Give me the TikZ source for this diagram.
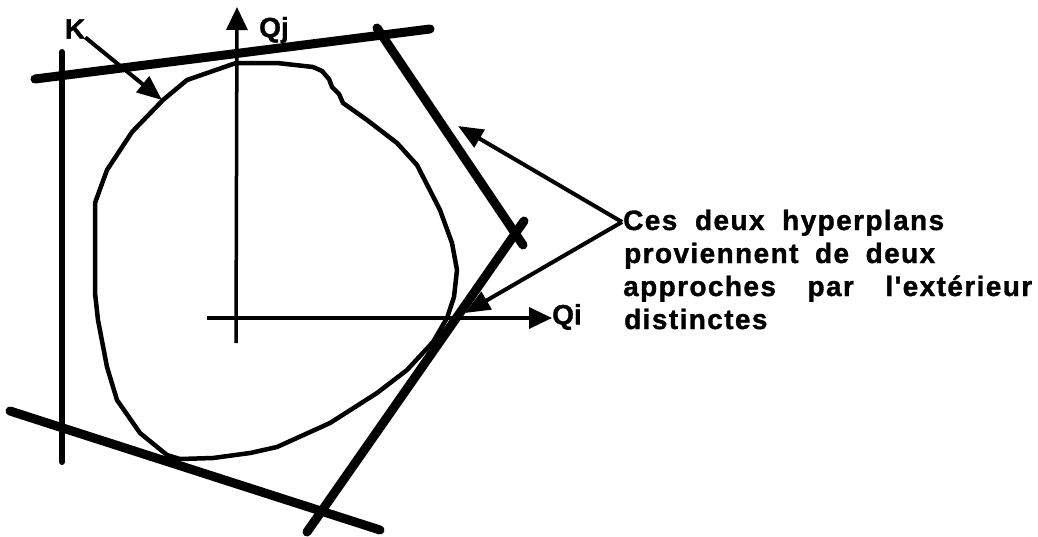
\documentclass[tikz,border=0pt]{standalone}
\usepackage{fontspec}
\setmainfont{Liberation Sans}
\newfontfamily\notefont[LetterSpace=5,FakeBold=1.2]{Liberation Sans Bold}
\newfontfamily\lblfont[FakeBold=1.2]{Liberation Sans Bold}
\usetikzlibrary{arrows.meta}
\tikzset{
  hyper/.style={line width=9pt, line cap=round},
  leftline/.style={line width=6pt, line cap=round},
  axis/.style={line width=3.5pt, -{Triangle[length=23pt,width=21pt]}},
  pointer/.style={line width=4pt, -{Triangle[length=25pt,width=20pt]}},
  blob/.style={line width=4.5pt, line join=round},
  lbl/.style={font=\lblfont\fontsize{28}{30}\selectfont, inner sep=0pt},
  note/.style={font=\notefont\fontsize{28}{33}\selectfont, inner sep=0pt, anchor=base west}
}
\begin{document}
\begin{tikzpicture}[x=1pt,y=-1pt]
\useasboundingbox (0,0) rectangle (1038,536);
% hyperplanes
\coordinate (t1) at (35,79);   \coordinate (t2) at (430,29);
\coordinate (l1) at (62,52);   \coordinate (l2) at (62,462);
\coordinate (b1) at (10,411);  \coordinate (b2) at (380,530);
\coordinate (u1) at (377,28);  \coordinate (u2) at (523,245);
\coordinate (r1) at (307,532); \coordinate (r2) at (524,221);
\draw[hyper] (t1) -- (t2);
\draw[leftline] (l1) -- (l2);
\draw[hyper] (b1) -- (b2);
\draw[hyper] (u1) -- (u2);
\draw[hyper] (r1) -- (r2);
% convex set K
\draw[blob] (236,63) -- (277,63) -- (313,67) -- (322,71) -- (329,79) -- (332,87) -- (339,94) -- (343,103)
  -- (367,120) -- (397,143) -- (417,165) -- (440,210) -- (452,243) -- (457,270) -- (454,297) -- (447,318)
  -- (433,342) -- (407,370) -- (377,393) -- (330,423) -- (277,447) -- (250,453) -- (213,458) -- (180,459)
  -- (167,455) -- (140,433) -- (117,400) -- (107,367) -- (98,320) -- (95,293) -- (95,203) -- (107,170)
  -- (132,132) -- (163,100) -- (187,80) -- cycle;
% axes
\node[lbl, anchor=west] (Qi) at (552,317) {Qi};
\node[lbl, anchor=west] (Qj) at (259,30) {Qj};
\coordinate (qiStart) at (207,318);
\coordinate (qjStart) at (236,343);
\coordinate (qjEnd) at (237,7);
\draw[axis] (qiStart) -- (Qi.west |- qiStart);
\draw[axis] (qjStart) -- (qjEnd);
% K label
\node[lbl] (K) at (75,29) {K};
\coordinate (ktip) at (162,100);
\draw[pointer] (K) -- (ktip);
% note
\node[note] (n1) at (623,230) {\makebox[321pt][s]{Ces deux hyperplans}};
\node[note] (n2) at (624,263) {\makebox[311pt][s]{proviennent de deux}};
\node[note] (n3) at (623,296) {\makebox[409pt][s]{approches par l'extérieur}};
\node[note] (n4) at (624,329) {distinctes};
\coordinate (apex) at (622,222);
\coordinate (tip1) at (458,126);
\coordinate (tip2) at (465,313);
\draw[pointer] (apex) -- (tip1);
\draw[pointer] (apex) -- (tip2);
\end{tikzpicture}
\end{document}
